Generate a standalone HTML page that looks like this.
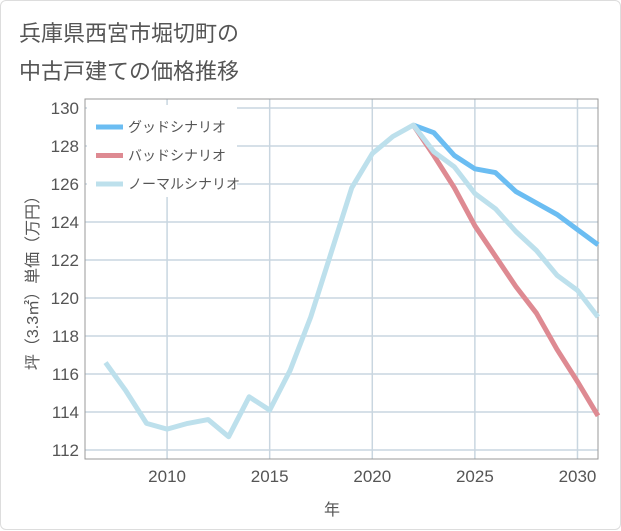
<!DOCTYPE html>
<html><head><meta charset="utf-8"><style>
body{margin:0;background:#fff;}
#c{position:relative;width:621px;height:530px;background:#fff;box-sizing:border-box;border:1px solid #ddd;border-radius:6px;font-family:"Liberation Sans","Noto Sans CJK JP",sans-serif;}
</style></head><body>
<div id="c">
<svg id="s" width="621" height="530" style="position:absolute;left:0;top:0">
<text x="18" y="40" font-size="22" fill="#555" font-family="Liberation Sans, Noto Sans CJK JP, sans-serif">兵庫県西宮市堀切町の</text>
<text x="18" y="78" font-size="22" fill="#555" font-family="Liberation Sans, Noto Sans CJK JP, sans-serif">中古戸建ての価格推移</text>
<text x="331" y="514" font-size="16" fill="#555" text-anchor="middle" font-family="Liberation Sans, Noto Sans CJK JP, sans-serif">年</text>
<text transform="translate(37,278) rotate(-90)" font-size="16" fill="#555" text-anchor="middle" font-family="Liberation Sans, Noto Sans CJK JP, sans-serif">坪（3.3㎡）単価（万円）</text>
<g id="grid"></g><g id="lines"></g><g id="legend"></g>
</svg>
</div>
<script>
const years=[2007,2008,2009,2010,2011,2012,2013,2014,2015,2016,2017,2018,2019,2020,2021,2022,2023,2024,2025,2026,2027,2028,2029,2030,2031];
const normal=[116.6,115.1,113.4,113.1,113.4,113.6,112.7,114.8,114.1,116.2,119.0,122.4,125.8,127.6,128.5,129.1,127.7,126.9,125.5,124.7,123.5,122.5,121.2,120.4,119.0];
const goodYears=[2022,2023,2024,2025,2026,2027,2028,2029,2030,2031];
const good=[129.1,128.7,127.5,126.8,126.6,125.6,125.0,124.4,123.6,122.8];
const bad=[129.1,127.5,125.8,123.8,122.2,120.6,119.2,117.3,115.6,113.8];
const yTicks=[112,114,116,118,120,122,124,126,128,130];
const xTicks=[2010,2015,2020,2025,2030];
const L=84,R=597,T=98,B=458;
const xs=v=>L+(v-2006)*(R-L)/25;
const ys=v=>107+(130-v)*19;
const NS='http://www.w3.org/2000/svg';
function mk(t,a,p){const e=document.createElementNS(NS,t);for(const k in a)e.setAttribute(k,a[k]);p.appendChild(e);return e;}
const g=document.getElementById('grid');
yTicks.forEach(v=>{
 const l=mk('line',{x1:L,x2:R,y1:ys(v),y2:ys(v),stroke:'#c9d6e0','stroke-width':1.5},g);
 
 
 const t=mk('text',{x:78,y:ys(v)+6,'font-size':17,fill:'#555','text-anchor':'end'},g);t.textContent=v;
 
 
});
for(let yr=2007;yr<=2030;yr++){
 if(yr%5===0){
 const l=mk('line',{x1:xs(yr),x2:xs(yr),y1:T,y2:B,stroke:'#c9d6e0','stroke-width':1.5},g);
 
 }
}
xTicks.forEach(v=>{
 const t=mk('text',{x:xs(v),y:481,'font-size':17,fill:'#555','text-anchor':'middle'},g);t.textContent=v;
 
 
});
const fr=mk('rect',{x:L,y:T,width:R-L,height:B-T,fill:'none',stroke:'#999','stroke-width':1},g);


const lg=document.getElementById('lines');
function line(xv,yv,col,name){
 const p=mk('polyline',{points:xv.map((x,i)=>xs(x)+','+ys(yv[i])).join(' '),fill:'none',stroke:col,'stroke-width':5,'stroke-linejoin':'round'},lg);
 
 
}
line(goodYears,good,'#6bbdf2','good-scenario-line');
line(goodYears,bad,'#de8a92','bad-scenario-line');
line(years,normal,'#bde0ec','normal-scenario-line');
const leg=document.getElementById('legend');
const bg=mk('rect',{x:86,y:104,width:150,height:92,fill:'#fff'},leg);


[['グッドシナリオ','#6bbdf2'],['バッドシナリオ','#de8a92'],['ノーマルシナリオ','#bde0ec']].forEach((d,i)=>{
 const y=126+i*28.5;
 const l=mk('line',{x1:95,x2:122,y1:y,y2:y,stroke:d[1],'stroke-width':5},leg);
 
 
 const t=mk('text',{x:127,y:y+5,'font-size':14,fill:'#555'},leg);t.textContent=d[0];
 
 
});
</script>
</body></html>
